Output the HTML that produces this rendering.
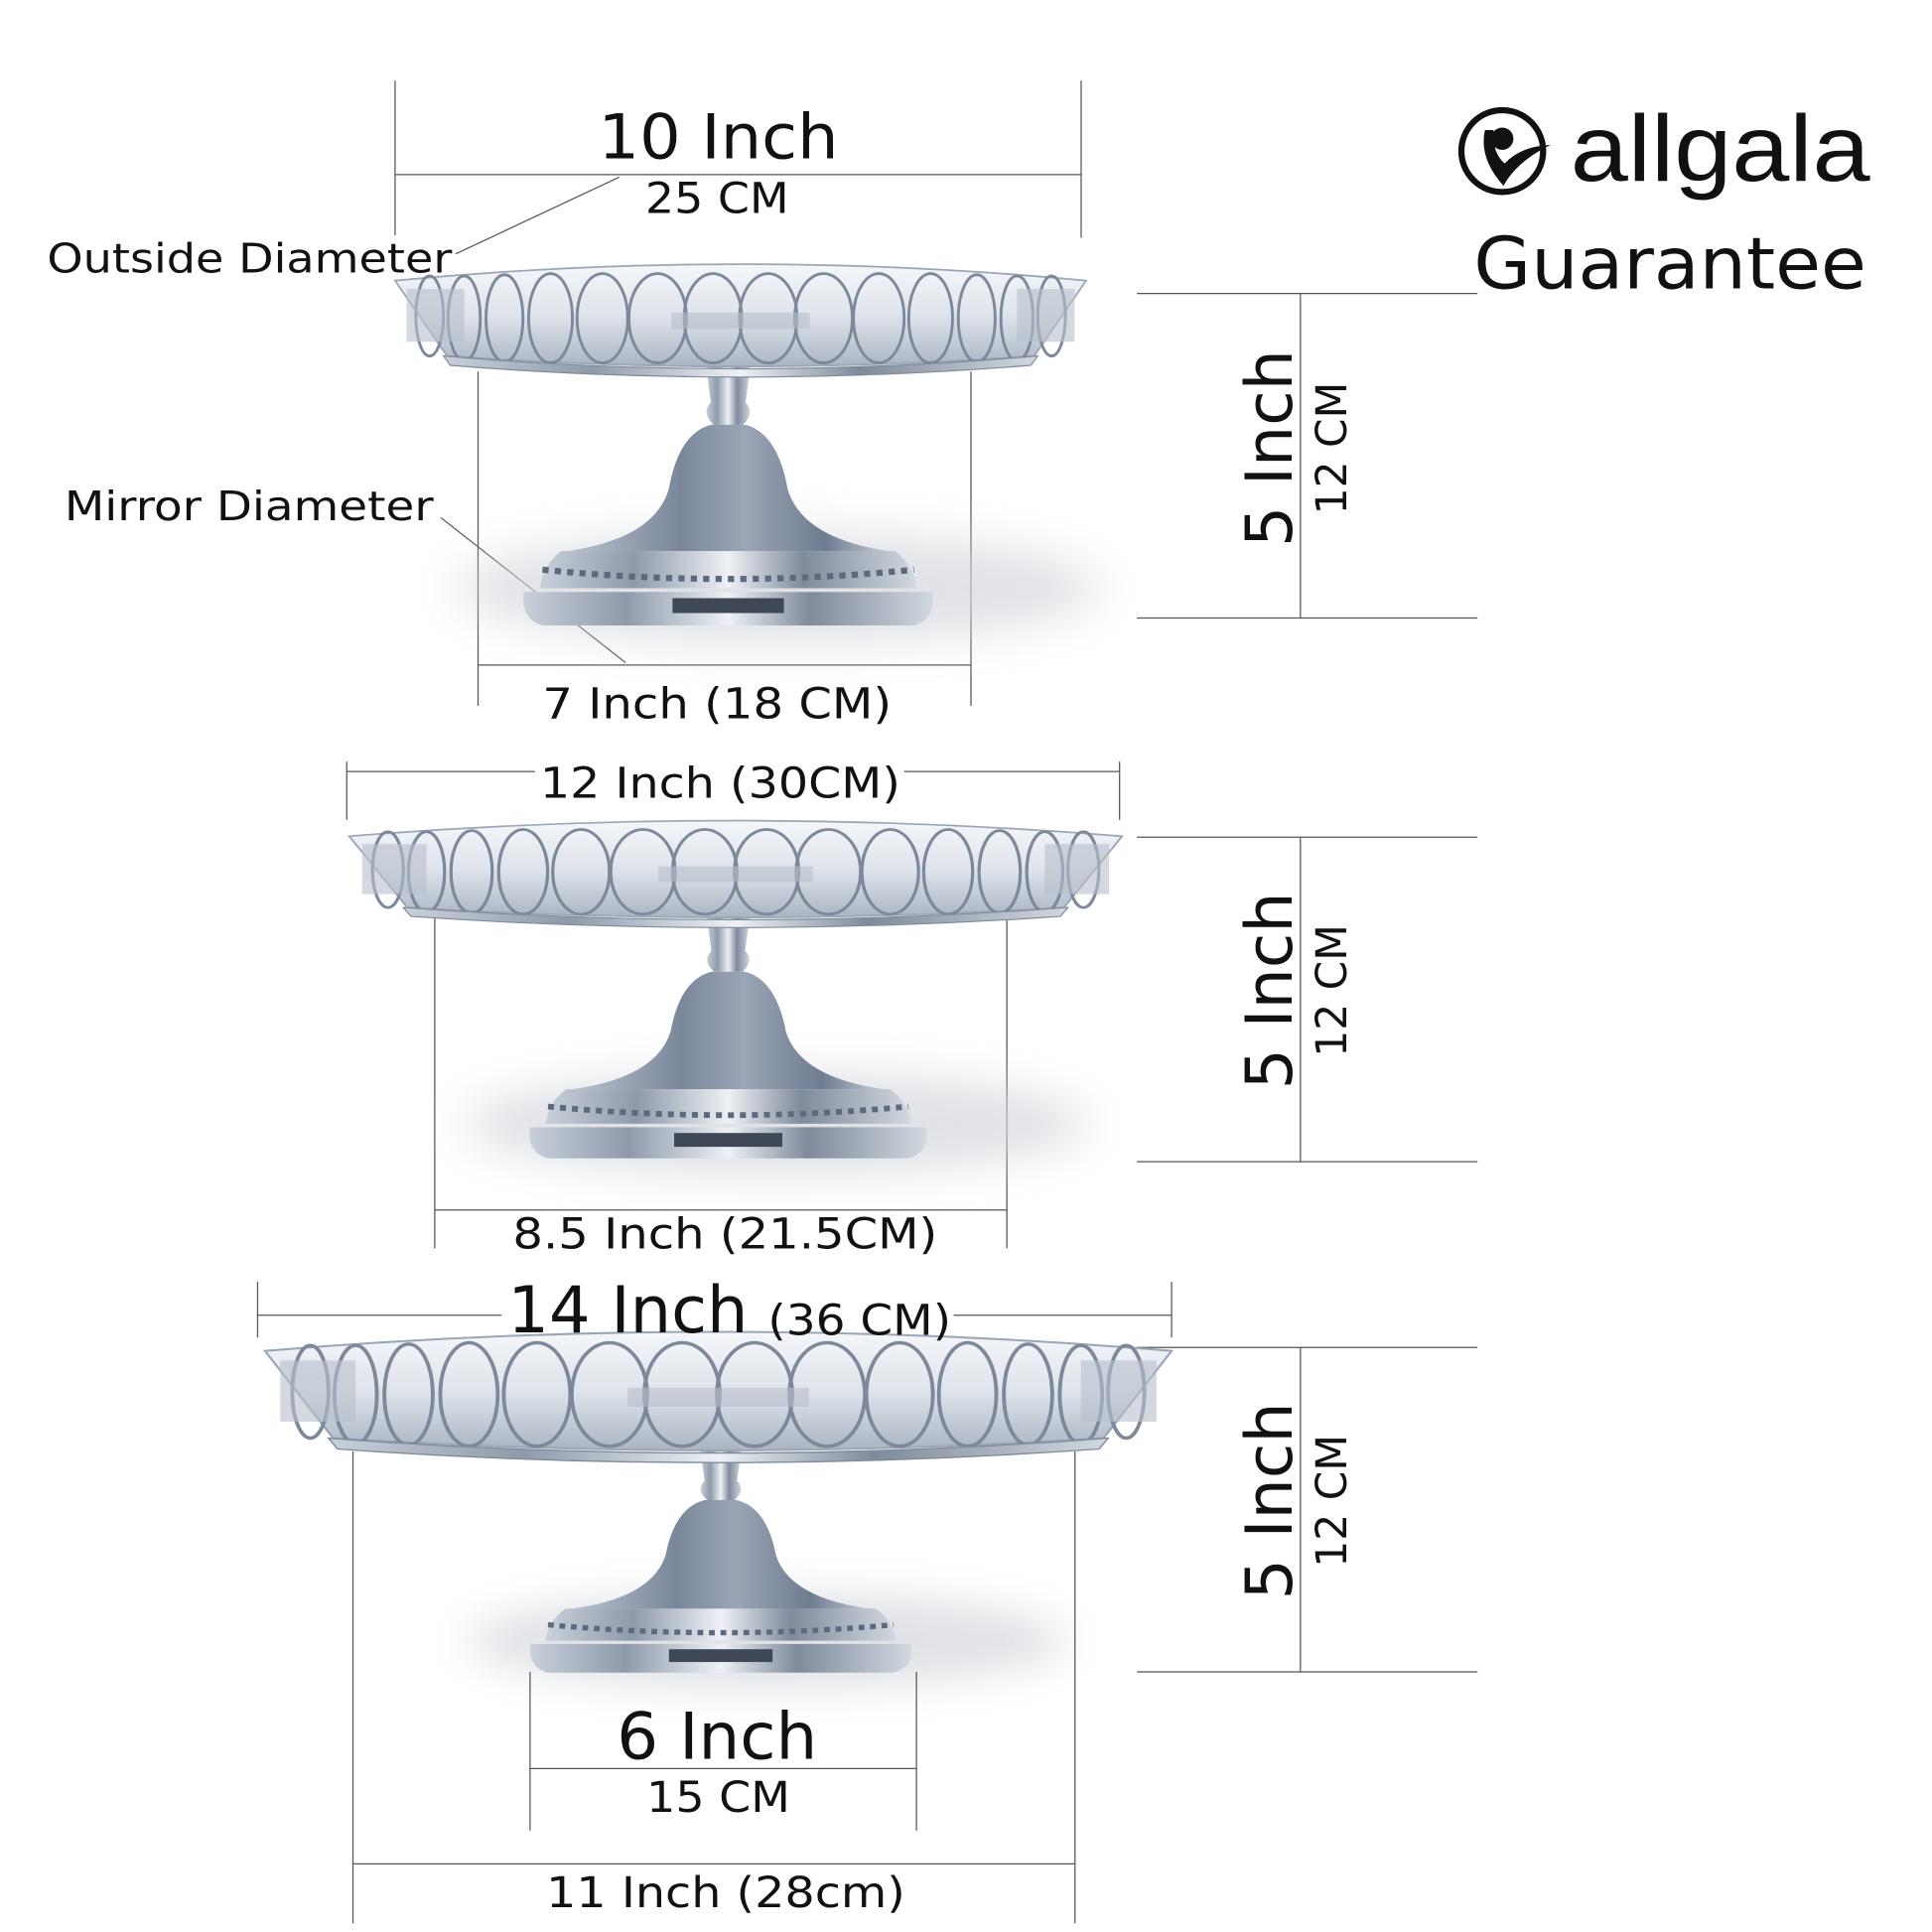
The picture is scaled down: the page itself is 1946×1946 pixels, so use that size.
<!DOCTYPE html>
<html><head><meta charset="utf-8"><style>html,body{margin:0;padding:0;background:#fff}svg{display:block}</style></head>
<body>
<svg width="1946" height="1946" viewBox="0 0 1560 1560" xmlns="http://www.w3.org/2000/svg" font-family="'DejaVu Sans','Liberation Sans',sans-serif">
<defs>
<linearGradient id="met" x1="0" x2="1" y1="0" y2="0">
<stop offset="0" stop-color="#c9d0da"/><stop offset="0.25" stop-color="#8e9aab"/><stop offset="0.5" stop-color="#eef1f5"/><stop offset="0.7" stop-color="#7f8b9c"/><stop offset="1" stop-color="#d2d8e0"/></linearGradient>
<linearGradient id="dome" x1="0" x2="1"><stop offset="0" stop-color="#b8c2d0"/><stop offset="0.35" stop-color="#7a879b"/><stop offset="0.55" stop-color="#9aa6b6"/><stop offset="0.8" stop-color="#6f7c90"/><stop offset="1" stop-color="#c5cdd8"/></linearGradient>
<linearGradient id="cry" x1="0" x2="0" y1="0" y2="1"><stop offset="0" stop-color="#f4f6f9"/><stop offset="0.5" stop-color="#dfe4eb"/><stop offset="1" stop-color="#aab4c2"/></linearGradient>
<filter id="bl" x="-50%" y="-50%" width="200%" height="200%"><feGaussianBlur stdDeviation="18"/></filter>
<g id="plate">
 <path d="M-300,-72 Q0,-100 300,-72 L255,-8 Q0,10 -255,-8 Z" fill="url(#cry)" stroke="#9aa5b5" stroke-width="1.5"/>
 <g fill="none" stroke="#7d889a" stroke-width="2.5">
  <ellipse cx="-270" cy="-42" rx="12" ry="34"/><ellipse cx="-240" cy="-40" rx="14" ry="36"/><ellipse cx="-205" cy="-40" rx="16" ry="37"/>
  <ellipse cx="-165" cy="-40" rx="19" ry="38"/><ellipse cx="-120" cy="-40" rx="22" ry="38"/><ellipse cx="-72" cy="-40" rx="25" ry="38"/>
  <ellipse cx="-24" cy="-40" rx="25" ry="38"/><ellipse cx="24" cy="-40" rx="25" ry="38"/><ellipse cx="72" cy="-40" rx="25" ry="38"/>
  <ellipse cx="120" cy="-40" rx="22" ry="38"/><ellipse cx="165" cy="-40" rx="19" ry="38"/><ellipse cx="205" cy="-40" rx="16" ry="37"/>
  <ellipse cx="240" cy="-40" rx="14" ry="36"/><ellipse cx="270" cy="-42" rx="12" ry="34"/>
 </g>
 <g fill="#b7c0cc" opacity="0.6">
  <rect x="-290" y="-65" width="50" height="45"/><rect x="240" y="-65" width="50" height="45"/>
  <rect x="-60" y="-45" width="120" height="14"/>
 </g>
 <path d="M-258,-8 Q0,14 258,-8 L252,0 Q0,20 -252,0 Z" fill="url(#met)" stroke="#7f8a9a"/>
</g>
<g id="base">
 <ellipse cx="40" cy="180" rx="260" ry="45" fill="#d3d6dc" filter="url(#bl)" opacity="0.7"/>
 <path d="M-18,0 L18,0 L14,30 Q22,38 12,48 L-12,48 Q-22,38 -14,30 Z" fill="url(#met)"/>
 <path d="M-14,48 L14,48 Q40,55 48,100 Q60,140 130,150 L-130,150 Q-60,140 -48,100 Q-40,55 -14,48 Z" fill="url(#dome)"/>
 <path d="M-135,150 L135,150 Q150,162 152,180 L-152,180 Q-150,162 -135,150 Z" fill="url(#met)"/>
 <path d="M-150,165 Q0,180 150,165" fill="none" stroke="#5d6a7e" stroke-width="5" stroke-dasharray="5,5"/>
 <path d="M-165,183 L165,183 Q168,205 150,210 L-150,210 Q-168,205 -165,183 Z" fill="url(#met)"/>
 <rect x="-45" y="188" width="90" height="12" fill="#3f4857"/>
</g>
</defs>

<g fill="none" stroke="#555" stroke-width="1">
 <line x1="319" y1="65" x2="319" y2="190"/><line x1="873" y1="65" x2="873" y2="192"/><line x1="319" y1="141" x2="873" y2="141"/>
 <line x1="368" y1="205" x2="500" y2="143"/>
 <line x1="386" y1="300" x2="386" y2="570"/><line x1="784" y1="300" x2="784" y2="570"/><line x1="386" y1="537" x2="784" y2="537"/>
 <line x1="356" y1="418" x2="505" y2="535"/>
 <line x1="918" y1="237" x2="1193" y2="237"/><line x1="918" y1="499" x2="1193" y2="499"/><line x1="1050" y1="237" x2="1050" y2="499"/>
 <line x1="280" y1="615" x2="280" y2="662"/><line x1="904" y1="615" x2="904" y2="662"/><line x1="280" y1="623" x2="432" y2="623"/><line x1="730" y1="623" x2="904" y2="623"/>
 <line x1="351" y1="740" x2="351" y2="1008"/><line x1="813" y1="740" x2="813" y2="1008"/><line x1="351" y1="977" x2="813" y2="977"/>
 <line x1="918" y1="676" x2="1193" y2="676"/><line x1="918" y1="938" x2="1193" y2="938"/><line x1="1050" y1="676" x2="1050" y2="938"/>
 <line x1="208" y1="1035" x2="208" y2="1080"/><line x1="946" y1="1035" x2="946" y2="1080"/><line x1="208" y1="1062" x2="405" y2="1062"/><line x1="770" y1="1062" x2="946" y2="1062"/>
 <line x1="918" y1="1088" x2="1193" y2="1088"/><line x1="918" y1="1350" x2="1193" y2="1350"/><line x1="1050" y1="1088" x2="1050" y2="1350"/>
</g>

<use href="#base" transform="translate(588,295)"/>
<use href="#plate" transform="translate(598,295) scale(0.93,0.95)"/>
<use href="#base" transform="translate(588,740) scale(0.97,0.93)"/>
<use href="#plate" transform="translate(594,740) scale(1.04,0.9)"/>
<use href="#base" transform="translate(582,1170) scale(0.93,0.86)"/>
<use href="#plate" transform="translate(580,1170) scale(1.22,1.1)"/>

<g fill="none" stroke="#555" stroke-width="1">
 <line x1="285" y1="1172" x2="285" y2="1553"/><line x1="868" y1="1172" x2="868" y2="1553"/><line x1="285" y1="1505" x2="868" y2="1505"/>
 <line x1="428" y1="1350" x2="428" y2="1478"/><line x1="740" y1="1350" x2="740" y2="1478"/><line x1="428" y1="1428" x2="740" y2="1428"/>
</g>

<g fill="#111">
 <text x="483" y="128" font-size="50" textLength="194" lengthAdjust="spacingAndGlyphs">10 Inch</text>
 <text x="521" y="172" font-size="34" textLength="116" lengthAdjust="spacingAndGlyphs">25 CM</text>
 <text x="38" y="220" font-size="33" textLength="327" lengthAdjust="spacingAndGlyphs">Outside Diameter</text>
 <text x="52" y="420" font-size="33" textLength="298" lengthAdjust="spacingAndGlyphs">Mirror Diameter</text>
 <text x="438" y="580" font-size="34" textLength="282" lengthAdjust="spacingAndGlyphs">7 Inch (18 CM)</text>
 <text x="436" y="644" font-size="34" textLength="291" lengthAdjust="spacingAndGlyphs">12 Inch (30CM)</text>
 <text x="414" y="1008" font-size="34" textLength="343" lengthAdjust="spacingAndGlyphs">8.5 Inch (21.5CM)</text>
 <text x="410" y="1076" font-size="52" textLength="194" lengthAdjust="spacingAndGlyphs">14 Inch</text>
 <text x="620" y="1078" font-size="34" textLength="148" lengthAdjust="spacingAndGlyphs">(36 CM)</text>
 <text x="498" y="1420" font-size="52" textLength="162" lengthAdjust="spacingAndGlyphs">6 Inch</text>
 <text x="522" y="1463" font-size="34" textLength="116" lengthAdjust="spacingAndGlyphs">15 CM</text>
 <text x="441" y="1540" font-size="34" textLength="290" lengthAdjust="spacingAndGlyphs">11 Inch (28cm)</text>
 <text transform="translate(1043,362) rotate(-90)" font-size="52" text-anchor="middle">5 Inch</text>
 <text transform="translate(1087,362) rotate(-90)" font-size="34" text-anchor="middle">12 CM</text>
 <text transform="translate(1043,800) rotate(-90)" font-size="52" text-anchor="middle">5 Inch</text>
 <text transform="translate(1087,800) rotate(-90)" font-size="34" text-anchor="middle">12 CM</text>
 <text transform="translate(1043,1212) rotate(-90)" font-size="52" text-anchor="middle">5 Inch</text>
 <text transform="translate(1087,1212) rotate(-90)" font-size="34" text-anchor="middle">12 CM</text>
 <text x="1190" y="233" font-size="58" textLength="317" lengthAdjust="spacingAndGlyphs">Guarantee</text>
 <text x="1268" y="146" font-size="76" font-family="'Liberation Sans',sans-serif" textLength="242" lengthAdjust="spacingAndGlyphs">allgala</text>
</g>
<circle cx="1213" cy="122" r="33" fill="none" stroke="#111" stroke-width="5"/>
<circle cx="1213" cy="112" r="9" fill="#111"/>
<path d="M1199,105 Q1194,128 1214,150 Q1225,130 1252,117 Q1228,118 1215,132 Q1205,124 1206,105 Z" fill="#111"/>
</svg>
</body></html>
